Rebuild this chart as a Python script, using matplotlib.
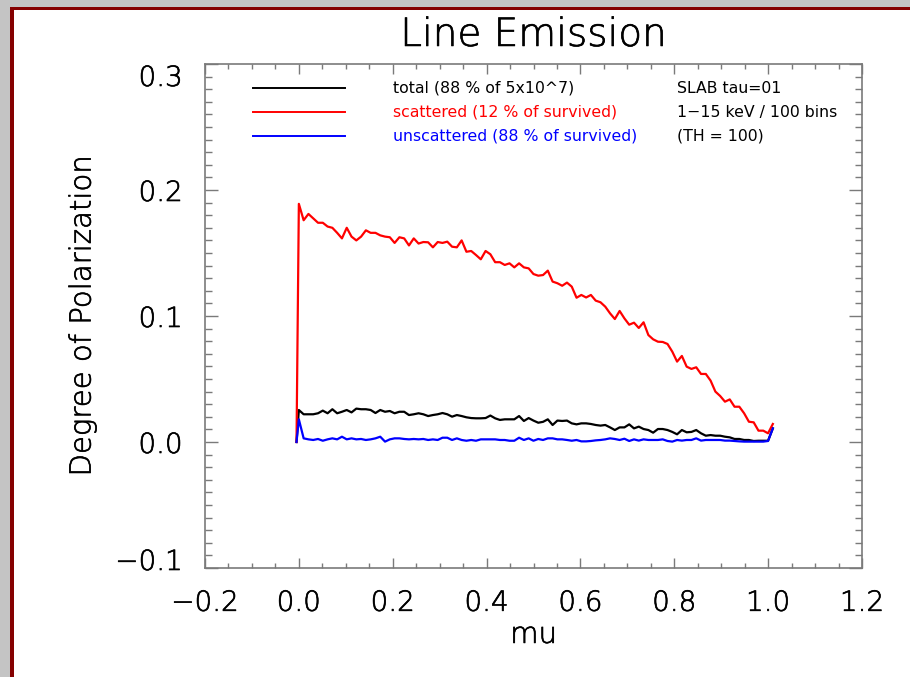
import numpy as np
import matplotlib
matplotlib.use("Agg")
import matplotlib.pyplot as plt
import matplotlib.patheffects as pe
from matplotlib import font_manager
from matplotlib.patches import Rectangle
from matplotlib.transforms import ScaledTranslation

plt.rcParams['font.family'] = ['DejaVu Sans']
plt.rcParams['axes.unicode_minus'] = True


def _as_weight(w):
    if isinstance(w, (int, float)):
        return int(w)
    table = {"ultralight": 200, "extra light": 200, "light": 300, "normal": 400,
             "regular": 400, "book": 400}
    return table.get(str(w).lower(), 400)


# large annotation text uses a thin cut of DejaVu Sans (slightly thickened) when installed
thin = [f for f in font_manager.fontManager.ttflist
        if f.name == "DejaVu Sans" and f.style == "normal" and _as_weight(f.weight) <= 300]
BIG_WEIGHT = 200 if thin else "normal"
BIG_EFFECT = [pe.withStroke(linewidth=0.45, foreground="black")] if thin else []

# polarization degree per mu bin (100 bins), each curve starts from zero at the left edge
mu_start = -0.005
mu_bins = np.linspace(0.0, 1.01, 100)

scattered = [0.189, 0.176, 0.181, 0.1775, 0.174, 0.174, 0.171, 0.170, 0.166, 0.1616,
             0.170, 0.163, 0.160, 0.163, 0.168, 0.166, 0.166, 0.164, 0.163, 0.1625,
             0.158, 0.1625, 0.1616, 0.156, 0.1616, 0.1575, 0.1587, 0.1585, 0.1545, 0.1587,
             0.158, 0.159, 0.155, 0.1545, 0.160, 0.151, 0.1516, 0.1484, 0.145, 0.1516,
             0.149, 0.1427, 0.1427, 0.1405, 0.1418, 0.1386, 0.1418, 0.1386, 0.1378, 0.1333,
             0.132, 0.1325, 0.136, 0.1273, 0.126, 0.1240, 0.1265, 0.1233, 0.1145, 0.1167,
             0.1147, 0.1167, 0.1122, 0.1109, 0.1074, 0.1021, 0.0976, 0.104, 0.0981, 0.0931,
             0.0947, 0.0905, 0.095, 0.0849, 0.0815, 0.0796, 0.0794, 0.0778, 0.0717, 0.0638,
             0.0683, 0.0598, 0.058, 0.0593, 0.054, 0.054, 0.0487, 0.040, 0.0365, 0.032,
             0.0338, 0.028, 0.028, 0.0228, 0.0161, 0.0156, 0.009, 0.009, 0.0069, 0.0143]

total = [0.0254, 0.022, 0.022, 0.022, 0.0228, 0.0249, 0.0228, 0.026, 0.0228, 0.024,
         0.0254, 0.0235, 0.0265, 0.026, 0.026, 0.0254, 0.023, 0.0254, 0.024, 0.0246,
         0.0228, 0.024, 0.024, 0.0214, 0.022, 0.0228, 0.022, 0.0206, 0.0214, 0.022,
         0.023, 0.022, 0.0201, 0.0214, 0.0206, 0.0196, 0.019, 0.0188, 0.0188, 0.019,
         0.021, 0.0188, 0.0175, 0.018, 0.018, 0.018, 0.0206, 0.0167, 0.019, 0.017,
         0.0153, 0.016, 0.018, 0.0135, 0.017, 0.0167, 0.017, 0.0148, 0.014, 0.0148,
         0.0148, 0.0143, 0.0135, 0.013, 0.0135, 0.0116, 0.0095, 0.0116, 0.0116, 0.014,
         0.0108, 0.0122, 0.0103, 0.0095, 0.0074, 0.0103, 0.0103, 0.0095, 0.008, 0.0061,
         0.0095, 0.0077, 0.008, 0.0095, 0.0069, 0.005, 0.0055, 0.005, 0.005, 0.0042,
         0.0037, 0.0024, 0.0024, 0.0016, 0.0016, 0.0008, 0.001, 0.001, 0.001, 0.0108]

unscattered = [0.018, 0.0029, 0.0021, 0.0016, 0.0024, 0.001, 0.0021, 0.0029, 0.0021, 0.0042,
               0.0021, 0.0029, 0.0021, 0.0024, 0.0016, 0.0021, 0.0029, 0.0042, 0.0003, 0.0021,
               0.0029, 0.0029, 0.0024, 0.0021, 0.0024, 0.0021, 0.0024, 0.0016, 0.0021, 0.0016,
               0.0034, 0.0034, 0.0016, 0.0029, 0.0016, 0.001, 0.0016, 0.001, 0.0021, 0.0021,
               0.0021, 0.0021, 0.0016, 0.0016, 0.001, 0.001, 0.0034, 0.0016, 0.0029, 0.001,
               0.0024, 0.0016, 0.0029, 0.0029, 0.0021, 0.0021, 0.0016, 0.001, 0.0016, 0.0005,
               0.0005, 0.0008, 0.0013, 0.0016, 0.0021, 0.0029, 0.0024, 0.0016, 0.0026, 0.0008,
               0.0021, 0.0011, 0.0021, 0.0016, 0.0016, 0.0016, 0.0021, 0.0008, 0.0003, 0.0016,
               0.0011, 0.0016, 0.0016, 0.0029, 0.0011, 0.0016, 0.0016, 0.0016, 0.0016, 0.0011,
               0.0011, 0.0008, 0.0005, 0.0003, 0.0003, 0.0003, 0.0003, 0.0003, 0.0008, 0.0108]

series_labels = ["total (88 % of 5x10^7)",
                 "scattered (12 % of survived)",
                 "unscattered (88 % of survived)"]
series_colors = ["black", "#ff0000", "#0000ff"]
info_lines = ["SLAB tau=01", "1\u221215 keV / 100 bins", "(TH = 100)"]

xticks = [-0.2, 0.0, 0.2, 0.4, 0.6, 0.8, 1.0, 1.2]
yticks = [-0.1, 0.0, 0.1, 0.2, 0.3]

W, H = 910, 677
fig = plt.figure(figsize=(W / 100, H / 100), dpi=100)
fig.patch.set_facecolor("white")

# window frame: grey surround, dark red edge, white canvas
fig.patches.append(Rectangle((0, 0), 1, 1, transform=fig.transFigure,
                             facecolor="#c4c4c4", edgecolor="none", zorder=-3))
fig.patches.append(Rectangle((10 / W, 0), 1, 1 - 7 / H, transform=fig.transFigure,
                             facecolor="#850000", edgecolor="none", zorder=-2))
fig.patches.append(Rectangle((14 / W, 0), 1, 1 - 10 / H, transform=fig.transFigure,
                             facecolor="white", edgecolor="none", zorder=-1))

ax_l, ax_r, ax_t, ax_b = 205, 862, 64, 568
ax = fig.add_axes([ax_l / W, 1 - ax_b / H, (ax_r - ax_l) / W, (ax_b - ax_t) / H])
ax.set_facecolor("none")

mu = np.concatenate([[mu_start], mu_bins])
for vals, col in zip([total, scattered, unscattered], series_colors):
    ax.plot(mu, np.concatenate([[0.0], vals]), color=col, lw=1.6, solid_joinstyle="round")

ax.set_xlim(-0.2, 1.2)
ax.set_ylim(-0.1, 0.3)
ax.set_xticks(xticks)
ax.set_yticks(yticks)
ax.set_xticks(np.arange(-0.2, 1.2001, 0.05), minor=True)
ax.set_yticks(np.arange(-0.1, 0.3001, 0.01), minor=True)
ax.set_xticklabels([f"{v:.1f}".replace("-", "\u2212") for v in xticks])
ax.set_yticklabels([f"{v:.1f}".replace("-", "\u2212") for v in yticks])

axis_grey = "#7a7a7a"
for s in ax.spines.values():
    s.set_color(axis_grey)
    s.set_linewidth(1.2)
ax.tick_params(which="both", direction="in", top=True, right=True,
               colors=axis_grey, labelcolor="black", width=1.0)
ax.tick_params(axis="x", which="major", length=7.5, pad=15, labelsize=20)
ax.tick_params(axis="x", which="minor", length=3.8)
ax.tick_params(axis="y", which="major", length=9.5, pad=16, labelsize=20)
ax.tick_params(axis="y", which="minor", length=5)

for lab in ax.get_xticklabels() + ax.get_yticklabels():
    lab.set_fontweight(BIG_WEIGHT)
    lab.set_path_effects(BIG_EFFECT)

# keep the outermost y labels inside the frame height
ylabs = ax.get_yticklabels()
ylabs[-1].set_transform(ylabs[-1].get_transform() + ScaledTranslation(0, -11 / 100, fig.dpi_scale_trans))
ylabs[0].set_transform(ylabs[0].get_transform() + ScaledTranslation(0, 9 / 100, fig.dpi_scale_trans))

ax.set_title("Line Emission", fontsize=28, pad=13, fontweight=BIG_WEIGHT, path_effects=BIG_EFFECT)
ax.set_xlabel("mu", fontsize=21, fontweight=BIG_WEIGHT, path_effects=BIG_EFFECT)
ax.set_ylabel("Degree of Polarization", fontsize=21, fontweight=BIG_WEIGHT, path_effects=BIG_EFFECT)
ax.xaxis.set_label_coords(0.5, -0.105)
ax.yaxis.set_label_coords(-0.165, 0.5)

# legend block inside the plot area
row_y = [0.9522, 0.9046, 0.8569]
for y, lab, col, info in zip(row_y, series_labels, series_colors, info_lines):
    ax.plot([(253 - ax_l) / (ax_r - ax_l), (345 - ax_l) / (ax_r - ax_l)], [y, y],
            transform=ax.transAxes, color=col, lw=1.4)
    ax.text((393 - ax_l) / (ax_r - ax_l), y, lab, transform=ax.transAxes,
            color=col, fontsize=11.3, va="center", ha="left")
    ax.text((677 - ax_l) / (ax_r - ax_l), y, info, transform=ax.transAxes,
            color="black", fontsize=11.3, va="center", ha="left")

fig.savefig("out.png", dpi=100)
